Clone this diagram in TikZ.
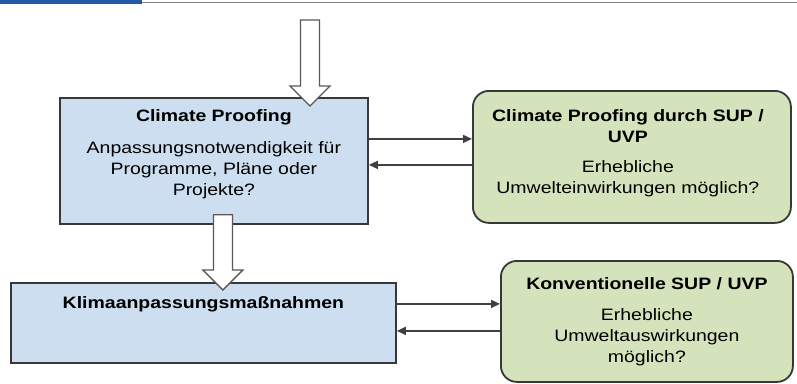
\documentclass[tikz,border=0pt]{standalone}
\usepackage{fontspec}
\setmainfont{Liberation Sans}[FakeStretch=1.18]
\usetikzlibrary{positioning,calc,arrows.meta}

\definecolor{boxblue}{HTML}{CCDEEF}
\definecolor{boxgreen}{HTML}{D5E3BC}
\definecolor{barblue}{HTML}{2558A8}
\definecolor{edgegray}{HTML}{383838}

% breiter Hohlpfeil von #1 nach unten bis #2
\newcommand{\hollowarrow}[2]{%
  \draw[hollow] let \p1=(#1), \p2=(#2) in
    (\x1-9.5pt,\y1) -- (\x1+9.5pt,\y1) -- (\x1+9.5pt,\y2+20pt) -- (\x1+20pt,\y2+20pt)
    -- (\x1,\y2) -- (\x1-20pt,\y2+20pt) -- (\x1-9.5pt,\y2+20pt) -- cycle;}

\begin{document}
\begin{tikzpicture}[x=1pt,y=-1pt,
  every node/.style={font=\fontsize{16.5}{21}\selectfont},
  bluebox/.style={draw=edgegray,line width=1.8pt,fill=boxblue,anchor=north west,inner sep=0pt},
  greenbox/.style={bluebox,fill=boxgreen,rounded corners=16pt},
  txt/.style={align=center,inner sep=0pt},
  link/.style={draw=black!75,line width=1.5pt,-{Triangle[length=9pt,width=8pt]}},
  hollow/.style={draw=black!65,line width=1.3pt,fill=white}]

\useasboundingbox (0,0) rectangle (797,383);

% kopfleiste
\fill[barblue] (0,0) rectangle (142,4);
\draw[black!50,line width=1.2pt] (142,2.5) -- (797,2.5);

% kaesten
\node[bluebox,minimum width=308pt,minimum height=126pt] (cp) at (59,97) {};
\node[greenbox,minimum width=318pt,minimum height=132pt] (cps) at (472,90) {};
\node[bluebox,minimum width=385pt,minimum height=80pt] (kl) at (10,282) {};
\node[greenbox,minimum width=292pt,minimum height=121pt] (ks) at (500,260) {};

% hohlpfeile
\coordinate (feed) at (310,20);
\hollowarrow{feed}{[yshift=-9pt]cp.north}
\hollowarrow{[xshift=9pt,yshift=10pt]cp.south}{[yshift=-8pt]kl.north}

% verbindungen
\draw[link] ([yshift=22pt]cp.east) -- ([yshift=22pt]cp.east -| cps.west);
\draw[link] ([yshift=-4pt]cp.east -| cps.west) -- ([yshift=-4pt]cp.east);
\draw[link] ([yshift=19pt]kl.east) -- ([yshift=19pt]kl.east -| ks.west);
\draw[link] ([yshift=-8pt]kl.east -| ks.west) -- ([yshift=-8pt]kl.east);

% texte
\node[txt,below=12pt of cp.north] (cp-t) {\textbf{Climate Proofing}\\[11pt]Anpassungsnotwendigkeit für\\Programme, Pläne oder\\Projekte?};
\node[txt,below=19pt of cps.north,xshift=-4pt] (cps-t) {\textbf{Climate Proofing durch SUP /}\\\textbf{UVP}\\[9pt]Erhebliche\\Umwelteinwirkungen möglich?};
\node[txt,below=14pt of kl.north] (kl-t) {\textbf{Klimaanpassungsmaßnahmen}};
\node[txt,below=17pt of ks.north] (ks-t) {\textbf{Konventionelle SUP / UVP}\\[10pt]Erhebliche\\Umweltauswirkungen\\möglich?};

\end{tikzpicture}
\end{document}
